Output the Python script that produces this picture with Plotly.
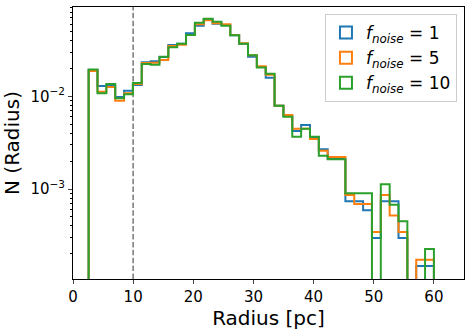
import plotly.graph_objects as go

# ---- data ----
bin_start = 2.6
bin_end = 60.0
n_bins = 39
bin_edges = [bin_start + (bin_end - bin_start) * i / n_bins for i in range(n_bins + 1)]

dens_f1 = [0.0192, 0.0129, 0.0132, 0.00983, 0.0115, 0.0132, 0.0233, 0.0239, 0.0266, 0.0357,
           0.0369, 0.0479, 0.0578, 0.0683, 0.0607, 0.0587, 0.0455, 0.0369, 0.0267, 0.0207,
           0.0159, 0.00792, 0.00613, 0.00422, 0.0049, 0.00364, 0.00268, 0.00214, 0.00214, 0.00074,
           0.00074, 0.00059, 0.000296, 0.00074, 0.00074, 0.000296, 0.0, 0.000148, 0.000148]
dens_f5 = [0.01875, 0.0112, 0.0126, 0.00897, 0.01077, 0.0136, 0.02285, 0.02305, 0.0246, 0.0349,
           0.0360, 0.0458, 0.0598, 0.0661, 0.0613, 0.0598, 0.0458, 0.0373, 0.0277, 0.0211,
           0.0171, 0.00792, 0.00629, 0.00447, 0.00447, 0.00346, 0.00259, 0.00221, 0.00221, 0.000863,
           0.00069, 0.00069, 0.000345, 0.000863, 0.000518, 0.000345, 0.0, 0.000173, 0.000173]
dens_f10 = [0.0194, 0.01077, 0.0136, 0.00952, 0.0105, 0.0139, 0.0223, 0.0219, 0.0267, 0.0338,
            0.0369, 0.0458, 0.0622, 0.0687, 0.0638, 0.0578, 0.0455, 0.0369, 0.0277, 0.02045,
            0.0175, 0.00792, 0.00603, 0.00367, 0.00447, 0.00367, 0.00229, 0.00209, 0.00209, 0.0009,
            0.0009, 0.0009, 0.0, 0.001125, 0.000675, 0.00045, 0.0, 0.0, 0.000225]

series_names = ["<i>f</i><sub><i>noise</i></sub> = 1",
                "<i>f</i><sub><i>noise</i></sub> = 5",
                "<i>f</i><sub><i>noise</i></sub> = 10"]
series_colors = ["#1f77b4", "#ff7f0e", "#2ca02c"]
radius_cut = 10

x_ticks = [0, 10, 20, 30, 40, 50, 60]
y_ticks = [1e-3, 1e-2]
y_ticktext = ["10<sup>\u22123</sup>", "10<sup>\u22122</sup>"]
y_minor = [k * 10 ** e for e in (-4, -3, -2) for k in range(2, 10)]

FLOOR = 1e-7


def step_xy(edges, vals):
    xs = [edges[0]]
    ys = [FLOOR]
    for i, v in enumerate(vals):
        xs.append(edges[i])
        ys.append(v if v > 0 else FLOOR)
    xs.append(edges[-1])
    ys.append(vals[-1] if vals[-1] > 0 else FLOOR)
    xs.append(edges[-1])
    ys.append(FLOOR)
    return xs, ys


fig = go.Figure()
for vals, name, col in zip([dens_f1, dens_f5, dens_f10], series_names, series_colors):
    xs, ys = step_xy(bin_edges, vals)
    fig.add_trace(go.Scatter(x=xs, y=ys, mode="lines", line=dict(color=col, width=2, shape="hv"),
                             showlegend=False, hoverinfo="skip"))
    # legend entry (outlined rectangle like matplotlib step-hist patch)
    fig.add_trace(go.Bar(x=[None], y=[None], name=name,
                         marker=dict(color="rgba(0,0,0,0)", line=dict(color=col, width=2)),
                         showlegend=True))

fig.add_shape(type="line", x0=radius_cut, x1=radius_cut, y0=0, y1=1, xref="x", yref="paper",
              line=dict(color="#808080", width=1.6, dash="5.5px,2.4px"), layer="below")

fig.update_layout(
    width=470, height=331,
    margin=dict(l=73, r=6, t=7, b=52, autoexpand=False),
    paper_bgcolor="white", plot_bgcolor="white",
    font=dict(family="DejaVu Sans", size=15, color="black"),
    showlegend=True,
    legend=dict(x=0.982, y=0.974, xanchor="right", yanchor="top",
                bordercolor="#cccccc", borderwidth=1, bgcolor="white",
                font=dict(size=17), itemwidth=30, tracegroupgap=0),
    xaxis=dict(range=[0, 65], tickvals=x_ticks, ticks="outside", ticklen=4, tickwidth=1,
               showline=True, linecolor="black", linewidth=1, mirror=True, showgrid=False,
               zeroline=False, automargin=False,
               title=dict(text="Radius [pc]", font=dict(size=20), standoff=4)),
    yaxis=dict(type="log", range=[-3.97, -1.037], tickvals=y_ticks, ticktext=y_ticktext,
               ticks="outside", ticklen=4, tickwidth=1,
               minor=dict(tickmode="array", tickvals=y_minor, ticks="outside", ticklen=2,
                          tickwidth=0.8, tickcolor="black", showgrid=False),
               showline=True, linecolor="black", linewidth=1, mirror=True, showgrid=False,
               zeroline=False, automargin=False,
               title=dict(text="N (Radius)", font=dict(size=20), standoff=8)),
)

fig.write_html("out.html", config={"displayModeBar": False},
               post_script="document.body.style.margin='0';")
